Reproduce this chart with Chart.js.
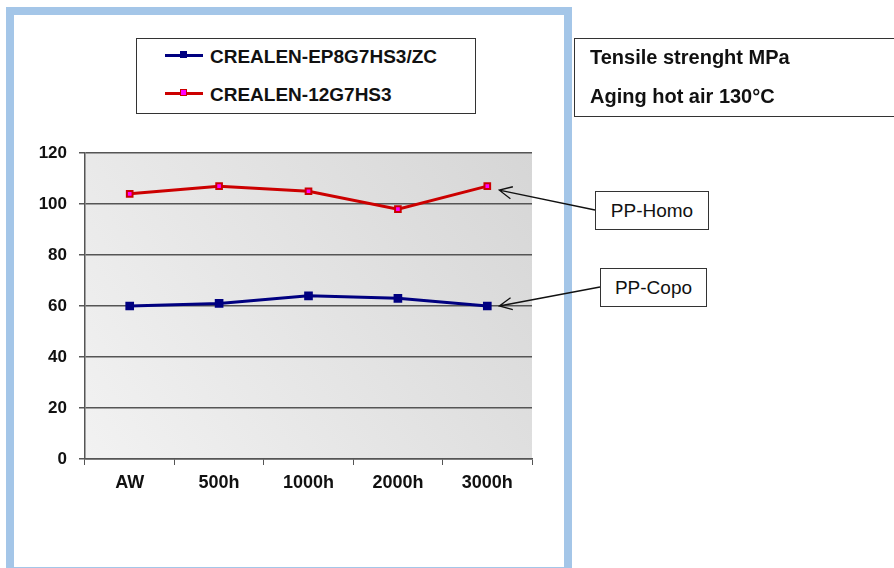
<!DOCTYPE html>
<html>
<head>
<meta charset="utf-8">
<script src="https://cdn.jsdelivr.net/npm/chart.js@4"></script>
<style>
  body { margin: 0; background: #fff; font-family: "Liberation Sans", Arial, sans-serif; }
  #wrap { position: relative; width: 894px; height: 568px; overflow: hidden; }
  #frame { position: absolute; left: 6px; top: 7px; width: 566px; height: 568px; box-sizing: border-box; border: 8px solid #a4c6e8; }
  canvas { position: absolute; left: 0; top: 0; }
  .box { position: absolute; border: 1px solid #333; background: #fff; box-sizing: border-box; color: #111; }
  #legend { left: 136px; top: 38px; width: 340px; height: 76px; }
  #legend .item { position: absolute; left: 28px; font-weight: bold; font-size: 19px; white-space: nowrap; }
  #legend .sw { display: inline-block; width: 38px; height: 3px; vertical-align: middle; position: relative; margin-right: 7px; top: -2px; }
  #legend .sw i { position: absolute; left: 15px; top: -3px; width: 7px; height: 7px; box-sizing: border-box; }
  #title { left: 574px; top: 38px; width: 330px; height: 79px; font-weight: bold; font-size: 20px; }
  #title div { position: absolute; left: 15px; white-space: nowrap; }
  .tag { font-size: 19px; text-align: center; }
  #homo { left: 595px; top: 191px; width: 114px; height: 39px; line-height: 37px; }
  #copo { left: 600px; top: 268px; width: 107px; height: 39px; line-height: 37px; }
</style>
</head>
<body>
<div id="wrap">
  <div id="frame"></div>
  <canvas id="chart" width="894" height="568"></canvas>
  <div class="box" id="legend"></div>
  <div class="box" id="title">
    <div style="top:7px">Tensile strenght MPa</div>
    <div style="top:46px">Aging hot air 130°C</div>
  </div>
  <div class="box tag" id="homo">PP-Homo</div>
  <div class="box tag" id="copo">PP-Copo</div>
</div>
<script>
const categories = ["AW", "500h", "1000h", "2000h", "3000h"];
const copoValues = [60, 61, 64, 63, 60];
const homoValues = [104, 107, 105, 98, 107];
const seriesNames = ["CREALEN-EP8G7HS3/ZC", "CREALEN-12G7HS3"];

const ctx = document.getElementById("chart");

// gradient fill behind the plot
const plotBackground = {
  id: "plotBackground",
  beforeDraw(chart) {
    const { ctx, chartArea: a } = chart;
    const g = ctx.createLinearGradient(a.left, a.bottom, a.right, a.top);
    g.addColorStop(0, "#f2f2f2");
    g.addColorStop(1, "#d6d6d6");
    ctx.save();
    ctx.fillStyle = g;
    ctx.fillRect(a.left, a.top, a.right - a.left, a.bottom - a.top);
    ctx.restore();
  },
};

// arrows from the tag boxes to the last point of each line
const tagArrows = {
  id: "tagArrows",
  afterDraw(chart) {
    const c = chart.ctx;
    const tails = [[600, 287], [595, 210]];
    const offs = [[12, 0], [12, 4]];
    c.save();
    c.strokeStyle = "#111";
    c.lineWidth = 1.3;
    chart.data.datasets.forEach((ds, i) => {
      const pts = chart.getDatasetMeta(i).data;
      const p = pts[pts.length - 1];
      const tx = p.x + offs[i][0], ty = p.y + offs[i][1];
      const [sx, sy] = tails[i];
      const ang = Math.atan2(ty - sy, tx - sx);
      c.beginPath();
      c.moveTo(sx, sy);
      c.lineTo(tx, ty);
      c.moveTo(tx - 14 * Math.cos(ang - 0.45), ty - 14 * Math.sin(ang - 0.45));
      c.lineTo(tx, ty);
      c.lineTo(tx - 14 * Math.cos(ang + 0.45), ty - 14 * Math.sin(ang + 0.45));
      c.stroke();
    });
    c.restore();
  },
};

const chart = new Chart(ctx, {
  type: "line",
  data: {
    labels: categories,
    datasets: [
      {
        label: seriesNames[0],
        data: copoValues,
        borderColor: "#000080",
        backgroundColor: "#000080",
        pointBackgroundColor: "#000080",
        pointBorderColor: "#000080",
        borderWidth: 3,
        pointStyle: "rect",
        pointRadius: 4,
        tension: 0,
      },
      {
        label: seriesNames[1],
        data: homoValues,
        borderColor: "#cc0000",
        backgroundColor: "#ff00ff",
        pointBackgroundColor: "#ff00ff",
        pointBorderColor: "#cc0000",
        pointBorderWidth: 2,
        borderWidth: 3,
        pointStyle: "rect",
        pointRadius: 4,
        tension: 0,
      },
    ],
  },
  options: {
    responsive: false,
    animation: false,
    layout: { padding: { left: 13, top: 153, right: 362, bottom: 69 } },
    plugins: {
      legend: { display: false },
      tooltip: { enabled: false },
    },
    scales: {
      x: {
        offset: true,
        afterFit(s) { s.height = 40; },
        grid: { offset: true, drawOnChartArea: false, drawTicks: true, tickLength: 6, color: "#555" },
        border: { color: "#555", width: 1.5 },
        ticks: { color: "#111", padding: 7, font: { family: "Liberation Sans", size: 18, weight: "bold" } },
      },
      y: {
        min: 0,
        max: 120,
        afterFit(s) { s.width = 72; },
        ticks: { stepSize: 20, color: "#111", padding: 12, font: { family: "Liberation Sans", size: 17, weight: "bold" } },
        grid: { color: "#555", lineWidth: 1.5, tickLength: 6 },
        border: { color: "#555", width: 1.5 },
      },
    },
  },
  plugins: [plotBackground, tagArrows],
});

// legend built from the datasets
const legend = document.getElementById("legend");
chart.data.datasets.forEach((ds, i) => {
  const item = document.createElement("div");
  item.className = "item";
  item.style.top = (7 + i * 38) + "px";
  item.innerHTML =
    '<span class="sw" style="background:' + ds.borderColor + '"><i style="background:' +
    ds.pointBackgroundColor + ';border:1px solid ' + ds.pointBorderColor + '"></i></span>' + ds.label;
  legend.appendChild(item);
});
</script>
</body>
</html>
